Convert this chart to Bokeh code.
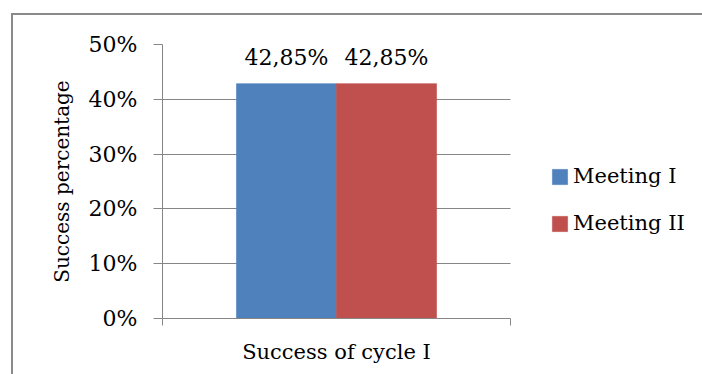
from bokeh.plotting import figure
from bokeh.models import (ColumnDataSource, Range1d, NumeralTickFormatter,
                          FixedTicker, Legend, LegendItem)
from bokeh.core.properties import value
from bokeh.embed import file_html
from bokeh.resources import INLINE

# ---- data ----
categories = ["Success of cycle I"]
series_names = ["Meeting I", "Meeting II"]
meeting_1 = [0.4285]
meeting_2 = [0.4285]
y_ticks = [0.0, 0.1, 0.2, 0.3, 0.4, 0.5]
y_label = "Success percentage"
colors = ["#4F81BD", "#C0504D"]


def fmt(v):
    return f"{v * 100:.2f}%".replace(".", ",")


# ---- layout constants (pixels) ----
W, H = 702, 374
AX_LEFT, AX_RIGHT, AX_TOP, AX_BOTTOM = 162, 510, 44, 318

bar_w = 0.2874
n = len(categories)
centers = [i + 0.5 for i in range(n)]
src = ColumnDataSource(dict(
    x1=[c - bar_w / 2 for c in centers],
    x2=[c + bar_w / 2 for c in centers],
    m1=meeting_1,
    m2=meeting_2,
    l1=[fmt(v) for v in meeting_1],
    l2=[fmt(v) for v in meeting_2],
))

FONT = "DejaVu Serif"
GRID = "#868686"
BORDER = "#8a8a8a"

# the frame reaches the right edge so the legend can sit inside it;
# the category axis covers [0, n] which maps to AX_LEFT..AX_RIGHT
x_end = n * (W - AX_LEFT) / (AX_RIGHT - AX_LEFT)
p = figure(x_range=Range1d(0, x_end), y_range=Range1d(0, 0.5),
           width=W, height=H, output_backend="svg", toolbar_location=None,
           min_border_left=AX_LEFT, min_border_right=0,
           min_border_top=AX_TOP, min_border_bottom=H - AX_BOTTOM)

# outer chart border (only its top and left edges fall inside the picture)
p.border_fill_color = None
p.styles = {
    "background": (f"linear-gradient({BORDER},{BORDER}) 12px 13px / 100% 2px no-repeat, "
                   f"linear-gradient({BORDER},{BORDER}) 11px 13px / 2px 100% no-repeat, white"),
}

# grid
p.outline_line_color = None
p.xgrid.visible = False
yg = p.ygrid[0]
yg.ticker = FixedTicker(ticks=y_ticks)
if "cross_bounds" in yg.properties():
    yg.grid_line_color = GRID
    yg.cross_bounds = (0, n)
else:
    yg.visible = False
    p.segment(x0=[0] * len(y_ticks), x1=[n] * len(y_ticks), y0=y_ticks, y1=y_ticks,
              line_color=GRID, line_width=1)

r1 = p.vbar(x="x1", top="m1", width=bar_w, source=src, fill_color=colors[0],
            line_color=colors[0], line_width=0.6)
r2 = p.vbar(x="x2", top="m2", width=bar_w, source=src, fill_color=colors[1],
            line_color=colors[1], line_width=0.6)

for xc, col, lab in (("x1", "m1", "l1"), ("x2", "m2", "l2")):
    p.text(x=xc, y=col, text=lab, source=src,
           text_align="center", text_baseline="alphabetic", y_offset=-26,
           text_font=value(FONT), text_font_size="22px", text_color="black")

yax = p.yaxis[0]
yax.ticker = FixedTicker(ticks=y_ticks)
yax.formatter = NumeralTickFormatter(format="0%")
yax.axis_line_color = GRID
yax.major_tick_line_color = GRID
yax.major_tick_out = 9
yax.major_tick_in = 0
yax.minor_tick_line_color = None
yax.major_label_standoff = 16
yax.major_label_text_font = FONT
yax.major_label_text_font_size = "22px"
yax.major_label_text_color = "black"
yax.axis_label = y_label
yax.axis_label_text_font = FONT
yax.axis_label_text_font_size = "20px"
yax.axis_label_text_font_style = "normal"
yax.axis_label_text_color = "black"
yax.axis_label_standoff = 12

xax = p.xaxis[0]
xax.bounds = (0, n)
xax.ticker = FixedTicker(ticks=centers, minor_ticks=list(range(n + 1)))
xax.major_label_overrides = {c: name for c, name in zip(centers, categories)}
xax.axis_line_color = GRID
xax.major_tick_line_color = None
xax.major_tick_out = 0
xax.major_tick_in = 0
xax.minor_tick_line_color = GRID
xax.minor_tick_out = 7
xax.minor_tick_in = 0
xax.major_label_standoff = 14
xax.major_label_text_font = FONT
xax.major_label_text_font_size = "21px"
xax.major_label_text_color = "black"

legend = Legend(items=[LegendItem(label=series_names[0], renderers=[r1]),
                       LegendItem(label=series_names[1], renderers=[r2])],
                location=(388, 83), border_line_color=None, background_fill_alpha=0,
                padding=0, margin=0, glyph_width=19, glyph_height=19,
                label_standoff=4, spacing=23, label_height=24,
                label_text_font=FONT, label_text_font_size="21px",
                label_text_color="black")
p.add_layout(legend)

open("out.html", "w").write(file_html(p, INLINE))
